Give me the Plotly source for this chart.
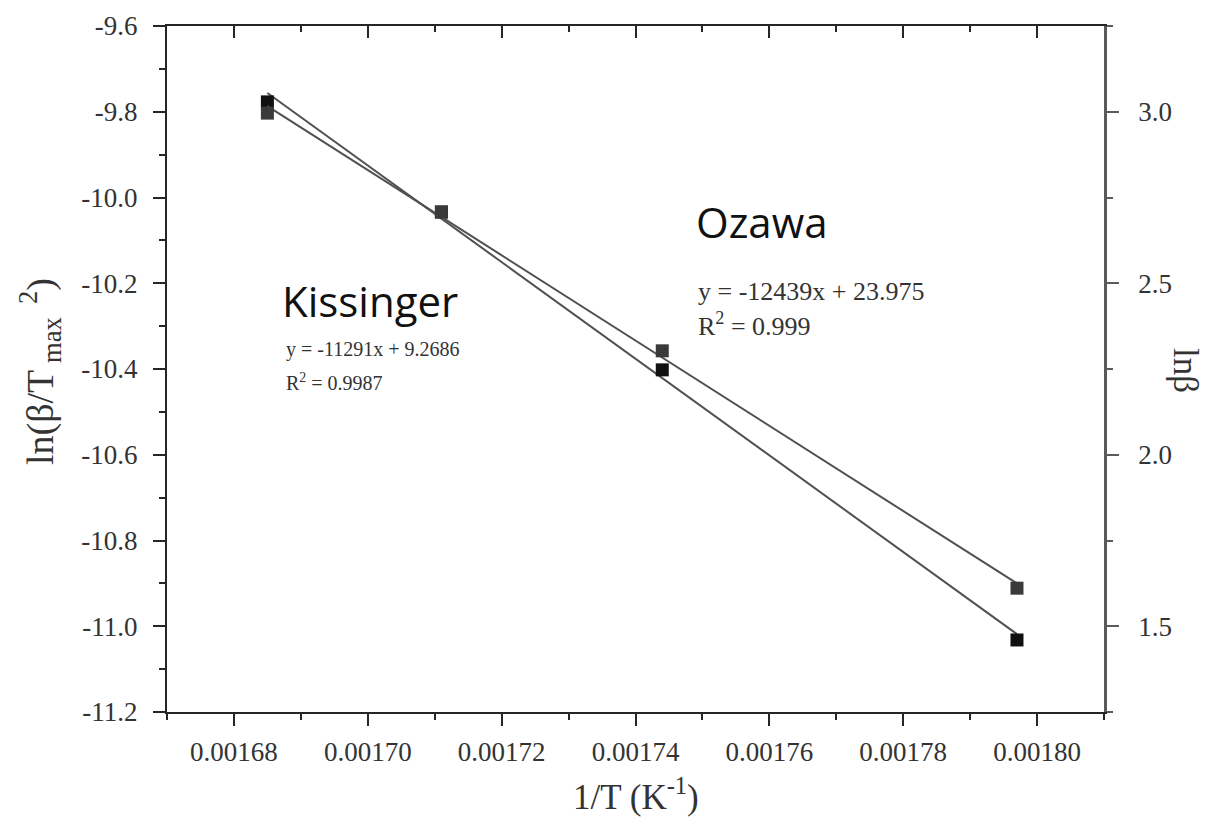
import numpy as np
import plotly.graph_objects as go

# ---- data ----
inv_T = [0.001685, 0.001711, 0.001744, 0.001797]          # 1/T (K^-1)
kissinger = [-9.777, -10.034, -10.402, -11.032]            # ln(beta/Tmax^2), left axis
ozawa = [2.996, 2.708, 2.303, 1.611]                       # ln(beta), right axis

x_ticks = [0.00168, 0.00170, 0.00172, 0.00174, 0.00176, 0.00178, 0.00180]
x_ticklabels = ["0.00168", "0.00170", "0.00172", "0.00174", "0.00176", "0.00178", "0.00180"]
x_minor = [0.00167, 0.00169, 0.00171, 0.00173, 0.00175, 0.00177, 0.00179, 0.00181]

yl_ticks = [-11.2, -11.0, -10.8, -10.6, -10.4, -10.2, -10.0, -9.8, -9.6]
yl_ticklabels = ["-11.2", "-11.0", "-10.8", "-10.6", "-10.4", "-10.2", "-10.0", "-9.8", "-9.6"]
yl_minor = [-11.1, -10.9, -10.7, -10.5, -10.3, -10.1, -9.9, -9.7]

yr_ticks = [1.5, 2.0, 2.5, 3.0]
yr_ticklabels = ["1.5", "2.0", "2.5", "3.0"]
yr_minor = [1.25, 1.75, 2.25, 2.75, 3.25]

kis_eq = ["y = -11291x + 9.2686", "R<sup>2</sup> = 0.9987"]
oza_eq = ["y = -12439x + 23.975", "R<sup>2</sup> = 0.999"]

# ---- linear fits drawn as trend lines ----
xa = np.array(inv_T)
k_fit = np.polyfit(xa, np.array(kissinger), 1)
o_fit = np.polyfit(xa, np.array(ozawa), 1)
x_line = [xa.min(), xa.max()]

OFF = 8                      # page body margin
W, H = 1200, 811
L, R, T, B = 159, 104, 18, 107
PW, PH = W - L - R, H - T - B


def px(xp):
    return (xp - OFF - L) / PW


def py(yp):
    return ((H - B) - (yp - OFF)) / PH


fig = go.Figure()

fig.add_trace(go.Scatter(x=x_line, y=list(np.polyval(o_fit, x_line)), mode="lines",
                         line=dict(color="#505050", width=2), xaxis="x", yaxis="y2",
                         showlegend=False, hoverinfo="skip"))
fig.add_trace(go.Scatter(x=x_line, y=list(np.polyval(k_fit, x_line)), mode="lines",
                         line=dict(color="#505050", width=2), xaxis="x", yaxis="y",
                         showlegend=False, hoverinfo="skip"))
fig.add_trace(go.Scatter(x=inv_T, y=ozawa, mode="markers", name="Ozawa",
                         marker=dict(symbol="square", size=13, color="#3a3a3a"),
                         xaxis="x", yaxis="y2", showlegend=False))
fig.add_trace(go.Scatter(x=inv_T, y=kissinger, mode="markers", name="Kissinger",
                         marker=dict(symbol="square", size=13, color="#111111"),
                         xaxis="x", yaxis="y", showlegend=False))
# dummy trace to materialise the top (mirror) axis
fig.add_trace(go.Scatter(x=[None], y=[None], xaxis="x2", yaxis="y",
                         showlegend=False, hoverinfo="skip"))

tickfont = dict(family="Liberation Serif", size=27, color="#333333")
axcol = "#262626"

fig.update_layout(
    width=W, height=H,
    margin=dict(l=L, r=R, t=T, b=B, autoexpand=False),
    paper_bgcolor="white", plot_bgcolor="white",
    xaxis=dict(range=[0.00167, 0.00181], tickmode="array", tickvals=x_ticks, ticktext=x_ticklabels,
               ticks="outside", ticklen=12, tickwidth=2, tickcolor=axcol, automargin=False,
               showline=True, linewidth=2, linecolor=axcol, showgrid=False, zeroline=False,
               tickfont=tickfont, ticklabelstandoff=3, anchor="y",
               minor=dict(tickmode="array", tickvals=x_minor, ticks="outside", ticklen=6,
                          tickwidth=2, tickcolor=axcol, showgrid=False)),
    xaxis2=dict(range=[0.00167, 0.00181], overlaying="x", side="top", anchor="y",
                tickmode="array", tickvals=x_ticks, ticks="inside", ticklen=12, tickwidth=2,
                tickcolor=axcol, showticklabels=False, showline=True, linewidth=2,
                linecolor=axcol, showgrid=False, zeroline=False, automargin=False,
                minor=dict(tickmode="array", tickvals=x_minor, ticks="inside", ticklen=6,
                           tickwidth=2, tickcolor=axcol, showgrid=False)),
    yaxis=dict(range=[-11.2, -9.6], tickmode="array", tickvals=yl_ticks, ticktext=yl_ticklabels,
               ticks="outside", ticklen=12, tickwidth=2, tickcolor=axcol, automargin=False,
               showline=True, linewidth=2, linecolor=axcol, showgrid=False, zeroline=False,
               tickfont=tickfont, ticklabelstandoff=10, anchor="x",
               minor=dict(tickmode="array", tickvals=yl_minor, ticks="outside", ticklen=6,
                          tickwidth=2, tickcolor=axcol, showgrid=False)),
    yaxis2=dict(range=[1.25, 3.25], overlaying="y", side="right", anchor="x",
                tickmode="array", tickvals=yr_ticks, ticktext=yr_ticklabels, automargin=False,
                ticks="outside", ticklen=12, tickwidth=2, tickcolor="#5a5a5a",
                showline=True, linewidth=2.5, linecolor="#5a5a5a", showgrid=False, zeroline=False,
                tickfont=tickfont, ticklabelstandoff=14,
                minor=dict(tickmode="array", tickvals=yr_minor, ticks="outside", ticklen=6,
                           tickwidth=2, tickcolor="#5a5a5a", showgrid=False)),
)

ann = []
titlefont = dict(family="Liberation Serif", size=35, color="#333333")
ann.append(dict(text="1/T (K<sup>-1</sup>)", x=px(636), y=py(794), xref="paper", yref="paper",
                xanchor="center", yanchor="middle", showarrow=False, font=titlefont))
ann.append(dict(text="ln(β/T<sub> max </sub><sup> 2</sup>)", x=px(40), y=py(372), xref="paper", yref="paper",
                xanchor="center", yanchor="middle", textangle=-90, showarrow=False,
                font=dict(family="Liberation Serif", size=38, color="#333333")))
ann.append(dict(text="lnβ", x=px(1186), y=py(370), xref="paper", yref="paper",
                xanchor="center", yanchor="middle", textangle=90, showarrow=False, font=titlefont))

labfont = dict(family="Open Sans", size=42, color="#111111")
ann.append(dict(text="Kissinger", x=px(280), y=py(300), xref="paper", yref="paper",
                xanchor="left", yanchor="middle", showarrow=False, font=labfont))
ann.append(dict(text="Ozawa", x=px(694), y=py(221), xref="paper", yref="paper",
                xanchor="left", yanchor="middle", showarrow=False, font=labfont))

kfont = dict(family="Liberation Serif", size=20, color="#333333")
ofont = dict(family="Liberation Serif", size=26, color="#333333")
for t, yp in zip(kis_eq, [350, 382]):
    ann.append(dict(text=t, x=px(284), y=py(yp), xref="paper", yref="paper",
                    xanchor="left", yanchor="middle", showarrow=False, font=kfont))
for t, yp in zip(oza_eq, [291, 325]):
    ann.append(dict(text=t, x=px(696), y=py(yp), xref="paper", yref="paper",
                    xanchor="left", yanchor="middle", showarrow=False, font=ofont))

fig.update_layout(annotations=ann)

fig.write_html("out.html")
